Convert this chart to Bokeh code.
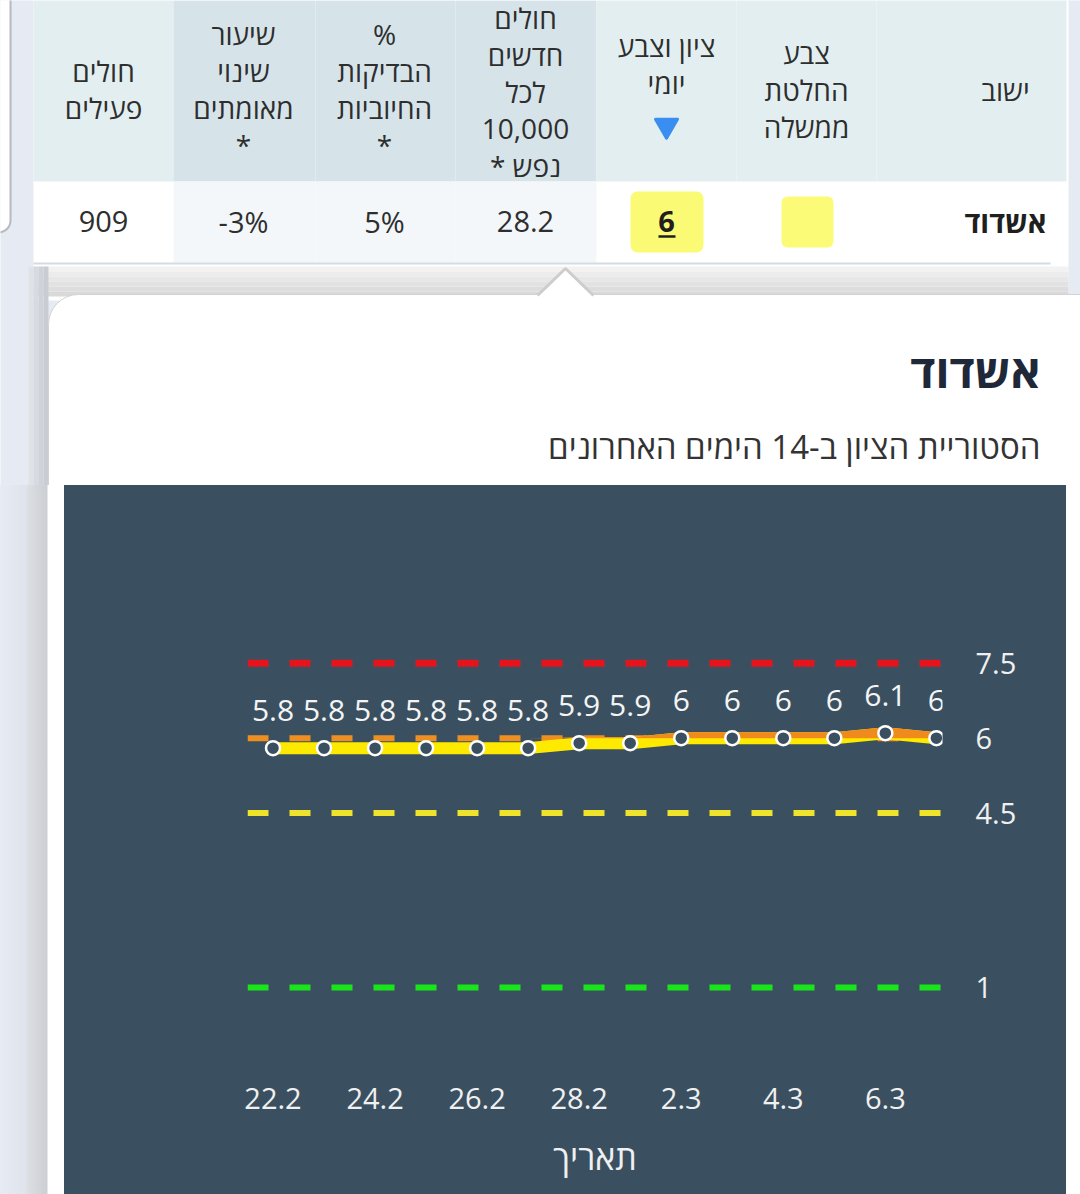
import numpy as np
from bokeh.plotting import figure
from bokeh.layouts import column, row
from bokeh.models import Range1d, FixedTicker, Span, Div
from bokeh.core.properties import value
from bokeh.embed import file_html
from bokeh.resources import INLINE

FONT = "Open Sans"

# ---------------- data ----------------
dates = ["22.2", "23.2", "24.2", "25.2", "26.2", "27.2", "28.2",
         "1.3", "2.3", "3.3", "4.3", "5.3", "6.3", "7.3"]
scores = [5.8, 5.8, 5.8, 5.8, 5.8, 5.8, 5.9, 5.9, 6, 6, 6, 6, 6.1, 6]
thresholds = [7.5, 6, 4.5, 1]
threshold_colors = ["#e5141c", "#ee8f22", "#efe32c", "#19e619"]
y_ticks = [1, 4.5, 6, 7.5]
x_tick_step = 2

table_headers = [
    ["חולים", "פעילים"],
    ["שיעור", "שינוי", "מאומתים", "*"],
    ["%", "הבדיקות", "החיוביות", "*"],
    ["חולים", "חדשים", "לכל", "10,000", "נפש *\u200f"],
    ["ציון וצבע", "יומי"],
    ["צבע", "החלטת", "ממשלה"],
    ["ישוב"],
]
row_values = ["909", "-3%", "5%", "28.2", "6", "", "אשדוד"]
city = "אשדוד"
subtitle = "הסטוריית הציון ב-14 הימים האחרונים"
x_title = "תאריך"

# ---------------- styles ----------------
PANEL = "#3a5060"
PAGE_BG = "#e6eaf2"
TXT = "#2e2e2e"
col_centers = [103, 243, 384, 525, 666, 806, 1005]
col_edges = [33, 173, 315, 455, 596, 736, 876, 1066]
shaded_cols = [1, 2, 3]
col_offsets = [0, 0, 0, 2, -25, 0, 0]


def blank(fig):
    fig.grid.visible = False
    fig.outline_line_color = None
    return fig


# ---------------- header (table + popup top) ----------------
hdr = blank(figure(width=1080, height=485, x_range=Range1d(0, 1080), y_range=Range1d(485, 0),
                   output_backend="svg", toolbar_location=None, min_border=0,
                   x_axis_location=None, y_axis_location=None))
hdr.background_fill_color = PAGE_BG
hdr.border_fill_color = PAGE_BG

# card at top-left edge
hdr.quad(left=-30, right=10, top=-30, bottom=232, fill_color="white",
         line_color="#b5bac2", line_width=2, border_radius=12)
# table card
hdr.quad(left=33, right=1068, top=-10, bottom=300, fill_color="white", line_color=None)
# header background
for i in range(7):
    c = "#d6e4ea" if i in shaded_cols else "#e3eef1"
    hdr.quad(left=col_edges[i], right=col_edges[i + 1], top=0, bottom=181, fill_color=c, line_color=None)
    if i in shaded_cols:
        hdr.quad(left=col_edges[i], right=col_edges[i + 1], top=181, bottom=262,
                 fill_color="#f3f7fa", line_color=None)
hdr.segment(x0=33, y0=263, x1=1050, y1=263, line_color="#d3dce2", line_width=2)

# header texts
hx, hy, ht = [], [], []
for ci, lines in enumerate(table_headers):
    n = len(lines)
    for li, t in enumerate(lines):
        hx.append(col_centers[ci])
        hy.append(89 + (li - (n - 1) / 2) * 37 + col_offsets[ci])
        ht.append(t)
hdr.text(x=hx, y=hy, text=ht, text_font=value(FONT), text_font_size="28px",
         text_align="center", text_baseline="middle", text_color=TXT)
hdr.scatter(x=[666], y=[125], marker="inverted_triangle", size=22,
            fill_color="#3a8ef2", line_color="#3a8ef2", line_width=3, line_join="round")

# row values
hdr.quad(left=630, right=703, top=191, bottom=252, fill_color="#fafa74", line_color=None, border_radius=7)
hdr.quad(left=781, right=833, top=196, bottom=247, fill_color="#fbfb78", line_color=None, border_radius=6)
plain_idx = [0, 1, 2, 3]
hdr.text(x=[col_centers[i] for i in plain_idx], y=[221] * 4, text=[row_values[i] for i in plain_idx],
         text_font=value(FONT), text_font_size="29px", text_align="center", text_baseline="middle",
         text_color=TXT)
hdr.text(x=[col_centers[4], col_centers[6]], y=[221, 221], text=[row_values[4], row_values[6]],
         text_font=value(FONT), text_font_size="29px", text_font_style="bold",
         text_align="center", text_baseline="middle", text_color="#1f1f1f")
hdr.segment(x0=658, y0=236, x1=675, y1=236, line_color="#1f1f1f", line_width=2.5)

# popup shadow
shade = ["#f2f2f2", "#ececec", "#e7e7e7", "#e2e2e2", "#dddddd", "#d9d9d9"]
for k, c in enumerate(shade):
    hdr.quad(left=33, right=1068, top=266 + k * 5, bottom=271 + k * 5, fill_color=c, line_color=None)
for k, c in enumerate(["#dfe2e7", "#d7dae0", "#cfd3d9", "#c9cdd3"]):
    hdr.quad(left=28 + k * 5, right=33 + k * 5, top=266, bottom=485, fill_color=c, line_color=None)
# popup body
hdr.quad(left=48, right=1110, top=294, bottom=700, fill_color="white", line_color="#d2d2d2",
         line_width=1, border_radius=30)
# popup arrow
hdr.patch(x=[535, 565, 595], y=[297, 268, 297], fill_color="white", line_color=None)
hdr.line(x=[537, 565, 593], y=[295, 268, 295], line_color="#cdcdcd", line_width=3)

# titles
hdr.text(x=[1040], y=[369], text=[city], text_font=value(FONT), text_font_size="46px",
         text_font_style="bold", text_align="right", text_baseline="middle", text_color="#1e2839")
hdr.text(x=[1040], y=[446], text=[subtitle], text_font=value(FONT), text_font_size="33px",
         text_align="right", text_baseline="middle", text_color="#333333")
# chart panel top edge
hdr.quad(left=64, right=1066, top=485, bottom=490, fill_color=PANEL, line_color=None)

# ---------------- left / right strips ----------------
lft = Div(text="", width=64, height=709, margin=0,
          styles={"background": "linear-gradient(to right, #e7ebf3 0px, #dfe3eb 26px, "
                                "#dcdee2 28px, #cbced3 47px, #ffffff 48px, #ffffff 64px)"})
rgt = Div(text="", width=14, height=709, margin=0, styles={"background": "#ffffff"})

# ---------------- chart ----------------
n = len(scores)
xs = np.arange(n)
s = np.array(scores, dtype=float)
ch = figure(width=1002, height=709, x_range=Range1d(-0.5, n - 1 + 0.12), y_range=Range1d(0, 9),
            output_backend="svg", toolbar_location=None, y_axis_location="right",
            min_border_left=183, min_border_right=124, min_border_top=103, min_border_bottom=157)
ch.grid.visible = False
ch.outline_line_color = None
ch.background_fill_color = PANEL
ch.border_fill_color = PANEL
ch.styles = {"background-color": PANEL}

for t, c in zip(thresholds, threshold_colors):
    ch.add_layout(Span(location=t, dimension="width", line_color=c,
                       line_width=7 if t == max(thresholds) else 6, line_dash="21 21", level="underlay"))

ch.line(xs, s, line_color="#fdea00", line_width=12, line_join="round")
zone = thresholds[1]
hw = 6 / (449 / 9)
ch.varea(x=xs, y1=np.maximum(zone, s - hw), y2=np.maximum(zone, s + hw), fill_color="#f08a1c")
ch.scatter(xs, s, size=14, fill_color=PANEL, line_color="white", line_width=2.5)
ch.text(xs, s, text=[f"{v:g}" for v in scores], y_offset=-38, text_font=value(FONT),
        text_font_size="30px", text_align="center", text_baseline="middle", text_color="#f4f4f4")

ch.xaxis.ticker = FixedTicker(ticks=list(range(0, n, x_tick_step)))
ch.xaxis.major_label_overrides = {i: dates[i] for i in range(0, n, x_tick_step)}
ch.yaxis.ticker = FixedTicker(ticks=y_ticks)
ch.yaxis.major_label_overrides = {t: f"{t:g}" for t in y_ticks}
for ax in (ch.xaxis[0], ch.yaxis[0]):
    ax.axis_line_color = None
    ax.major_tick_line_color = None
    ax.minor_tick_line_color = None
    ax.major_label_text_font = FONT
    ax.major_label_text_font_size = "29px"
    ax.major_label_text_color = "#f0f0f0"
ch.xaxis.major_label_standoff = 44
ch.yaxis.major_label_standoff = 27
ch.xaxis.axis_label = x_title
ch.xaxis.axis_label_text_font = FONT
ch.xaxis.axis_label_text_font_size = "34px"
ch.xaxis.axis_label_text_font_style = "normal"
ch.xaxis.axis_label_text_color = "#f0f0f0"
ch.xaxis.axis_label_standoff = 22

bottom = row(lft, ch, rgt, spacing=0, styles={"background-color": PANEL})
layout = column(hdr, bottom, spacing=0)
open("out.html", "w").write(file_html(layout, INLINE))
